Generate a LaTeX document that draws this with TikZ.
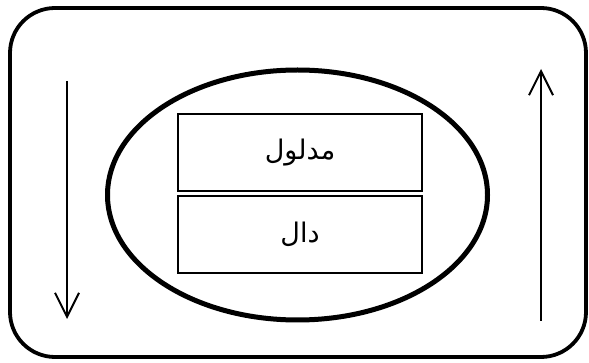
\documentclass[tikz,border=0pt]{standalone}
\usepackage{fontspec}
\newfontfamily\arabicfont[Script=Arabic]{DejaVu Sans}
\TeXXeTstate=1
\usetikzlibrary{arrows.meta,shapes.geometric}
\begin{document}
\begin{tikzpicture}[x=1pt,y=-1pt,
  outerbox/.style={draw,line width=3.8pt,rounded corners=45pt},
  oval/.style={draw,ellipse,line width=5pt,inner sep=0pt,minimum width=380pt,minimum height=250pt},
  wordbox/.style={draw,line width=1.3pt,minimum width=244pt,minimum height=77pt,inner sep=0pt,font=\arabicfont\fontsize{27}{32}\selectfont},
  flow/.style={line width=2pt,-{Straight Barb[length=24pt,width=24pt,line width=2pt]}}]
\useasboundingbox (0,0) rectangle (589,363);
\draw[outerbox] (10,8) rectangle (586,357);
\node[oval] (e) at (297.5,195) {};
\node[wordbox] (top) at (300,152.5) {\beginR مدلول\endR};
\node[wordbox] (bot) at (300,234.5) {\beginR دال\endR};
\coordinate (la) at (67,81);
\coordinate (lb) at (67,319);
\coordinate (ra) at (541,321);
\coordinate (rb) at (541,69);
\draw[flow] (la) -- (lb);
\draw[flow] (ra) -- (rb);
\end{tikzpicture}
\end{document}
